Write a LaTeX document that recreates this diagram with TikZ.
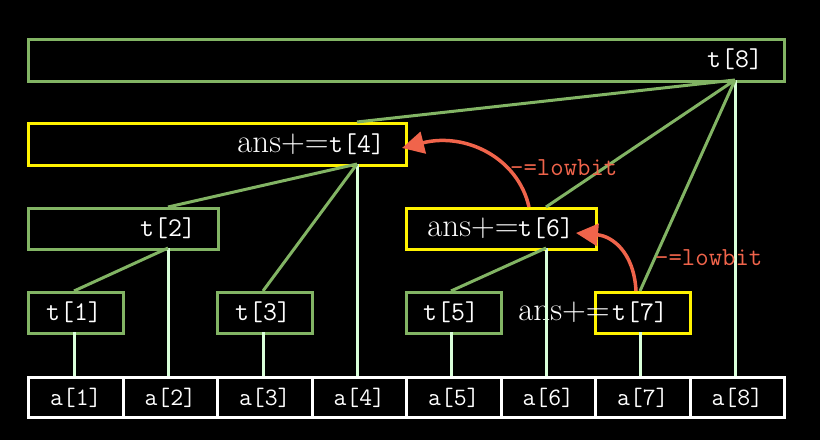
\documentclass[tikz,border=0pt]{standalone}
\usetikzlibrary{arrows.meta}
\begin{document}
\begin{tikzpicture}[x=1pt,y=-1pt]
\definecolor{gb}{RGB}{130,180,100}
\definecolor{rd}{RGB}{240,100,75}
\tikzset{
  box/.style={draw=gb,line width=3pt,anchor=north west,inner sep=0pt},
  hl/.style={draw=yellow,line width=3pt},
  abox/.style={draw=white,line width=3pt,anchor=north west,inner sep=0pt,minimum width=94.5pt,minimum height=40pt,text=white,font=\fontsize{25}{27}\selectfont\ttfamily},
  tl/.style={text=white,font=\fontsize{27}{29}\selectfont\ttfamily,inner sep=0pt},
  ans/.style={text=white,font=\fontsize{33}{35}\selectfont,inner sep=0pt},
  gl/.style={draw=gb,line width=3pt},
  vl/.style={draw=green!15!white,line width=3pt},
  red/.style={draw=rd,line width=3.5pt,-{Triangle[length=22pt,width=22pt]}},
  lab/.style={text=rd,font=\fontsize{26}{28}\selectfont\ttfamily,inner sep=0pt,anchor=west}}
\fill[black] (0,0) rectangle (820,440);
\foreach \i in {1,...,8}{
  \node[abox] (a\i) at ({27+94.5*(\i-1)},376) {a[\i]};
}
\node[box,minimum width=95pt,minimum height=41pt] (t1) at (27,291) {};
\node[box,minimum width=95pt,minimum height=41pt] (t3) at (216,291) {};
\node[box,minimum width=95pt,minimum height=41pt] (t5) at (405,291) {};
\node[box,hl,minimum width=95pt,minimum height=41pt] (t7) at (594,291) {};
\node[box,minimum width=190pt,minimum height=41pt] (t2) at (27,207) {};
\node[box,hl,minimum width=190pt,minimum height=41pt] (t6) at (405,207) {};
\node[box,hl,minimum width=378pt,minimum height=42pt] (t4) at (27,122) {};
\node[box,minimum width=756pt,minimum height=42pt] (t8) at (27,38) {};
\node[tl] (l1) at (74,312) {t[1]};
\node[tl] (l3) at (263,312) {t[3]};
\node[tl] (l5) at (451,312) {t[5]};
\node[tl] (l7) at (640,312) {t[7]};
\node[ans] (n7) at (564,312) {ans+=};
\node[tl] (l2) at (168,228) {t[2]};
\node[tl] (l6) at (546,228) {t[6]};
\node[ans] (n6) at (473,228) {ans+=};
\node[tl] (l4) at (357,144) {t[4]};
\node[ans] (n4) at (283,144) {ans+=};
\node[tl] (l8) at (735,59) {t[8]};
\coordinate (b8) at (735,80);
\coordinate (b4) at (357,164);
\coordinate (b2) at (168,248);
\coordinate (b6) at (546,248);
\coordinate (u1) at (74,291);
\coordinate (u2) at (168,207);
\coordinate (u3) at (263,291);
\coordinate (u4) at (357,122);
\coordinate (u5) at (451,291);
\coordinate (u6) at (546,207);
\coordinate (u7) at (640,291);
\draw[vl] (74,332) -- (74,376);
\draw[vl] (263,332) -- (263,376);
\draw[vl] (451,332) -- (451,376);
\draw[vl] (640,332) -- (640,376);
\draw[vl] (b2) -- (168,376);
\draw[vl] (b6) -- (546,376);
\draw[vl] (b4) -- (357,376);
\draw[vl] (b8) -- (735,376);
\draw[gl] (b2) -- (u1);
\draw[gl] (b4) -- (u2);
\draw[gl] (b4) -- (u3);
\draw[gl] (b6) -- (u5);
\draw[gl] (b8) -- (u4);
\draw[gl] (b8) -- (u6);
\draw[gl] (b8) -- (u7);
\draw[red] (636,291) .. controls (634,252) and (612,236) .. (576,233);
\draw[red] (529,207) .. controls (518,158) and (466,132) .. (402,148);
\node[lab] (r1) at (655,258) {-=lowbit};
\node[lab] (r2) at (510,168) {-=lowbit};
\end{tikzpicture}
\end{document}
